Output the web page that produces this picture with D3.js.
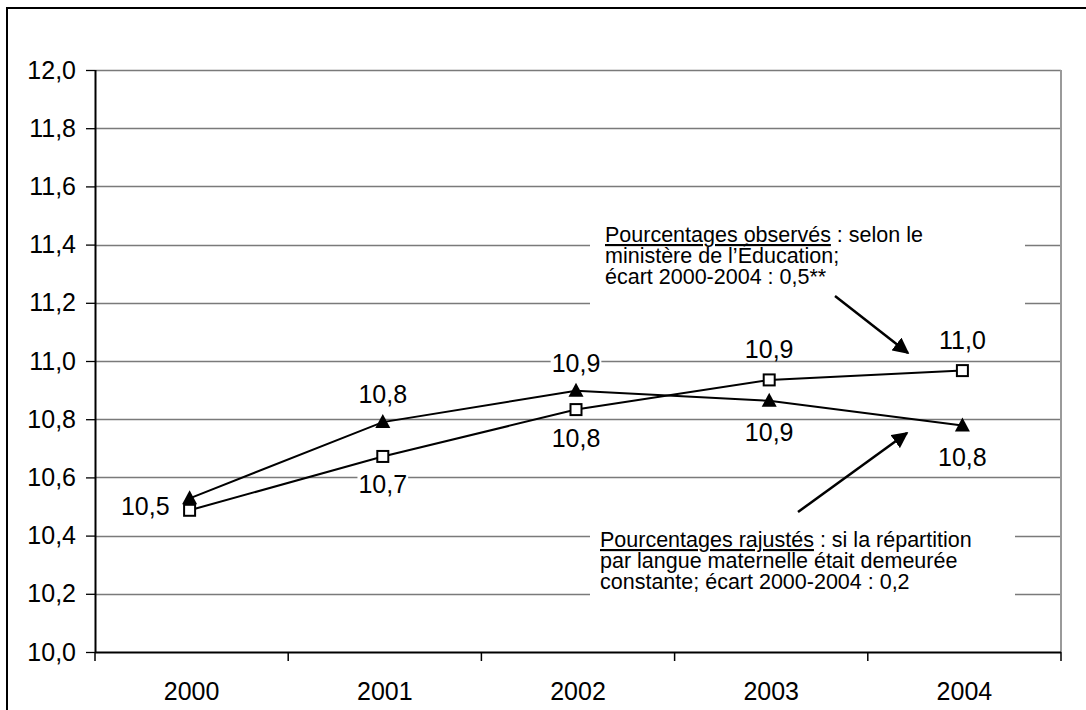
<!DOCTYPE html>
<html>
<head>
<meta charset="utf-8">
<script src="https://cdn.jsdelivr.net/npm/d3@7/dist/d3.min.js"></script>
<style>
  body { margin: 0; background: #fff; }
  svg { display: block; font-family: "Liberation Sans", Arial, sans-serif; }
</style>
</head>
<body>
<div id="chart"></div>
<script>
// data
const categories = ["2000", "2001", "2002", "2003", "2004"];
const observedValues = [10.487, 10.672, 10.833, 10.935, 10.967];   // squares
const adjustedValues = [10.528, 10.790, 10.898, 10.863, 10.778];   // triangles
const observedLabels = ["", "10,7", "10,8", "10,9", "11,0"];
const adjustedLabels = ["10,5", "10,8", "10,9", "10,9", "10,8"];
const yTicks = [10.0, 10.2, 10.4, 10.6, 10.8, 11.0, 11.2, 11.4, 11.6, 11.8, 12.0];

const noteObserved = [
  ["Pourcentages observés", " : selon le"],
  ["", "ministère de l’Éducation;"],
  ["", "écart 2000-2004 : 0,5**"]
];
const noteAdjusted = [
  ["Pourcentages rajustés", " : si la répartition"],
  ["", "par langue maternelle était demeurée"],
  ["", "constante; écart 2000-2004 : 0,2"]
];

const W = 1086, H = 710;
const margin = { top: 70, right: 25, bottom: 58, left: 95 },
    width = W - margin.left - margin.right,
    height = H - margin.top - margin.bottom;

const svg = d3.select("#chart").append("svg")
    .attr("width", W)
    .attr("height", H);

// outer frame (only top and left visible)
svg.append("path")
    .attr("d", `M7,${H} V8 H${W}`)
    .attr("fill", "none")
    .attr("stroke", "#000")
    .attr("stroke-width", 2);

const g = svg.append("g")
    .attr("transform", `translate(${margin.left}, ${margin.top})`);

const x = d3.scaleBand()
    .domain(categories)
    .range([0, width])
    .padding(0);

const y = d3.scaleLinear()
    .domain([10, 12])
    .range([height, 0]);

const fmt = v => d3.format(".1f")(v).replace(".", ",");

// gridlines
g.append("g")
    .selectAll("line")
    .data(yTicks.filter(t => t > 10))
    .enter()
    .append("line")
    .attr("x1", 0)
    .attr("x2", width)
    .attr("y1", d => Math.round(y(d)) + 0.5)
    .attr("y2", d => Math.round(y(d)) + 0.5)
    .attr("stroke", "#7a7a7a")
    .attr("stroke-width", 1.3);

// right border of plot area
g.append("line")
    .attr("x1", width).attr("x2", width)
    .attr("y1", 0).attr("y2", height)
    .attr("stroke", "#9a9a9a")
    .attr("stroke-width", 2);

// white boxes behind the notes (they cut the gridlines)
g.append("rect")
    .attr("x", 590 - margin.left).attr("y", 212 - margin.top)
    .attr("width", 435).attr("height", 98)
    .attr("fill", "#fff");
g.append("rect")
    .attr("x", 590 - margin.left).attr("y", 522 - margin.top)
    .attr("width", 425).attr("height", 86)
    .attr("fill", "#fff");

// Y axis
const yAxis = g.append("g")
    .call(d3.axisLeft(y).tickValues(yTicks).tickSize(9).tickPadding(10).tickFormat(fmt));
yAxis.select(".domain").attr("stroke", "#000").attr("stroke-width", 2).attr("d", `M0.5,0V${height}`);
yAxis.selectAll(".tick line").attr("stroke", "#000").attr("stroke-width", 1.3);
yAxis.selectAll("text")
    .attr("fill", "#000")
    .style("font-size", "25px")
    .style("font-family", "Liberation Sans, Arial, sans-serif");

// X axis
const xAxis = g.append("g")
    .attr("transform", `translate(0, ${height})`)
    .call(d3.axisBottom(x).tickSize(0).tickPadding(30));
xAxis.select(".domain").attr("stroke", "#000").attr("stroke-width", 2).attr("d", `M0,0.5H${width}`);
xAxis.selectAll("text")
    .attr("fill", "#000")
    .style("font-size", "25px")
    .style("font-family", "Liberation Sans, Arial, sans-serif");
xAxis.selectAll(".edge")
    .data(categories.map(c => x(c)).concat([width]))
    .enter()
    .append("line")
    .attr("class", "edge")
    .attr("x1", d => d).attr("x2", d => d)
    .attr("y1", 0).attr("y2", 9)
    .attr("stroke", "#000")
    .attr("stroke-width", 1.5);

const cx = c => x(c) + x.bandwidth() / 2 - 2;

// lines
const line = d3.line()
    .x(d => cx(d[0]))
    .y(d => y(d[1]));

const observed = categories.map((c, i) => [c, observedValues[i]]);
const adjusted = categories.map((c, i) => [c, adjustedValues[i]]);

[adjusted, observed].forEach(series => {
    g.append("path")
        .datum(series)
        .attr("d", line)
        .attr("fill", "none")
        .attr("stroke", "#000")
        .attr("stroke-width", 2);
});

// markers
g.selectAll(".tri")
    .data(adjusted)
    .enter()
    .append("path")
    .attr("class", "tri")
    .attr("transform", d => `translate(${cx(d[0])}, ${y(d[1])})`)
    .attr("d", "M0,-8 L7.5,6 L-7.5,6 Z")
    .attr("fill", "#000");

g.selectAll(".sq")
    .data(observed)
    .enter()
    .append("rect")
    .attr("class", "sq")
    .attr("x", d => cx(d[0]) - 5.5)
    .attr("y", d => y(d[1]) - 5.5)
    .attr("width", 11)
    .attr("height", 11)
    .attr("fill", "#fff")
    .attr("stroke", "#000")
    .attr("stroke-width", 2);

// data labels
const labelLayer = g.append("g");
function addLabel(px, py, txt, anchor) {
    const t = labelLayer.append("text")
        .attr("x", px)
        .attr("y", py)
        .attr("text-anchor", anchor)
        .style("font-size", "25px")
        .attr("fill", "#000")
        .text(txt);
    const b = t.node().getBBox();
    labelLayer.insert("rect", "text")
        .attr("x", b.x - 1).attr("y", b.y + 3)
        .attr("width", b.width + 2).attr("height", b.height - 6)
        .attr("fill", "#fff");
}

categories.forEach((c, i) => {
    const px = cx(c);
    if (i === 0) {
        addLabel(px - 20, y((observedValues[i] + adjustedValues[i]) / 2) + 11, adjustedLabels[i], "end");
        return;
    }
    const obsAbove = observedValues[i] > adjustedValues[i];
    const yo = y(observedValues[i]), ya = y(adjustedValues[i]);
    addLabel(px, obsAbove ? yo - 22 : yo + 37, observedLabels[i], "middle");
    addLabel(px, obsAbove ? ya + 40 : ya - 19, adjustedLabels[i], "middle");
});

// notes
function addNote(lines, x0, y0) {
    const t = svg.append("text")
        .style("font-size", "21.5px")
        .attr("fill", "#000");
    lines.forEach((ln, i) => {
        const row = t.append("tspan")
            .attr("x", x0)
            .attr("y", y0 + i * 21);
        if (ln[0]) {
            row.append("tspan")
                .style("text-decoration", "underline")
                .text(ln[0]);
        }
        row.append("tspan").text(ln[1]);
    });
}
addNote(noteObserved, 605, 242);
addNote(noteAdjusted, 600, 547);

// arrows
const defs = svg.append("defs");
defs.append("marker")
    .attr("id", "head")
    .attr("viewBox", "0 0 10 10")
    .attr("refX", 9).attr("refY", 5)
    .attr("markerWidth", 6.5).attr("markerHeight", 6.5)
    .attr("markerUnits", "strokeWidth")
    .attr("orient", "auto")
    .append("path")
    .attr("d", "M0,0 L10,5 L0,10 Z")
    .attr("fill", "#000");

[[835, 296, 908, 353], [798, 512, 907, 433]].forEach(a => {
    svg.append("line")
        .attr("x1", a[0]).attr("y1", a[1])
        .attr("x2", a[2]).attr("y2", a[3])
        .attr("stroke", "#000")
        .attr("stroke-width", 2.5)
        .attr("marker-end", "url(#head)");
});
</script>
</body>
</html>
